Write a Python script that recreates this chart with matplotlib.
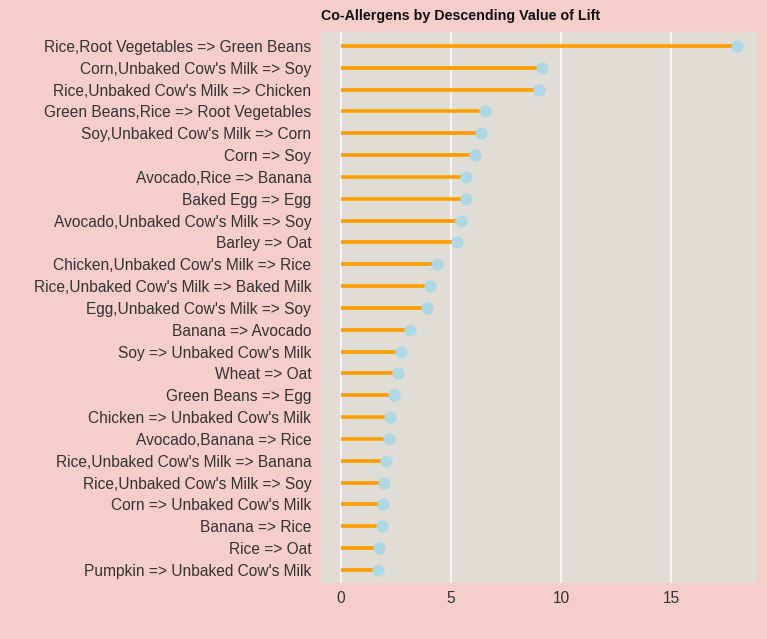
import numpy as np
import matplotlib.pyplot as plt

plt.rcParams['font.family'] = ['Liberation Sans', 'DejaVu Sans']

# rules, top to bottom
rules = [
    "Rice,Root Vegetables => Green Beans",
    "Corn,Unbaked Cow's Milk => Soy",
    "Rice,Unbaked Cow's Milk => Chicken",
    "Green Beans,Rice => Root Vegetables",
    "Soy,Unbaked Cow's Milk => Corn",
    "Corn => Soy",
    "Avocado,Rice => Banana",
    "Baked Egg => Egg",
    "Avocado,Unbaked Cow's Milk => Soy",
    "Barley => Oat",
    "Chicken,Unbaked Cow's Milk => Rice",
    "Rice,Unbaked Cow's Milk => Baked Milk",
    "Egg,Unbaked Cow's Milk => Soy",
    "Banana => Avocado",
    "Soy => Unbaked Cow's Milk",
    "Wheat => Oat",
    "Green Beans => Egg",
    "Chicken => Unbaked Cow's Milk",
    "Avocado,Banana => Rice",
    "Rice,Unbaked Cow's Milk => Banana",
    "Rice,Unbaked Cow's Milk => Soy",
    "Corn => Unbaked Cow's Milk",
    "Banana => Rice",
    "Rice => Oat",
    "Pumpkin => Unbaked Cow's Milk",
]
lift = [18.0, 9.14, 9.0, 6.55, 6.36, 6.09, 5.7, 5.68, 5.45, 5.27,
        4.36, 4.05, 3.9, 3.14, 2.73, 2.6, 2.4, 2.23, 2.18, 2.05,
        1.97, 1.9, 1.87, 1.74, 1.7]
xticks = [0, 5, 10, 15]

fig = plt.figure(figsize=(7.67, 6.39), dpi=100)
fig.patch.set_facecolor('#F5CDCB')
ax = fig.add_axes([321/767, 1 - 583/639, (757-321)/767, (583-32)/639])
ax.set_facecolor('#E0DDD7')

y = np.arange(len(rules))
ax.hlines(y, 0, lift, color='#FFA000', linewidth=2.7, zorder=2)
ax.plot(lift, y, 'o', color='#ADD8E6', markersize=7.8, zorder=3)

ax.set_yticks(y)
ax.set_yticklabels(rules, fontsize=11.2, color='#333333')
ax.set_ylim(len(rules) - 0.4, -0.64)
ax.set_xticks(xticks)
ax.set_xticklabels([str(t) for t in xticks], fontsize=11.2, color='#333333')
ax.set_xlim(-0.91, 18.9)
ax.tick_params(axis='y', length=0, pad=7)
ax.tick_params(axis='x', length=0, pad=6)
ax.grid(axis='x', color='#F4F4F4', linewidth=1.5, zorder=1)
ax.set_axisbelow(True)
for s in ax.spines.values():
    s.set_visible(False)

fig.text(321/767, 1 - 16/639, 'Co-Allergens by Descending Value of Lift',
         fontsize=10.3, fontweight='bold', color='#111111', va='center', ha='left')

fig.savefig('out.png', dpi=100, facecolor=fig.get_facecolor())
